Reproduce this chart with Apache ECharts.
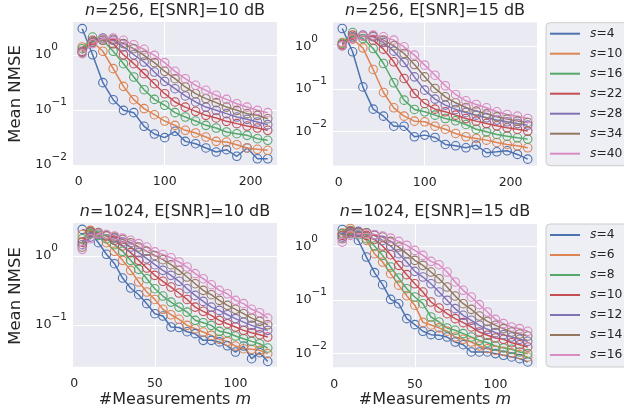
<!DOCTYPE html>
<html><head><meta charset="utf-8">
<script src="https://cdn.jsdelivr.net/npm/echarts@6/dist/echarts.min.js"></script>
<style>html,body{margin:0;padding:0;background:#fff}#c{width:624px;height:419px}</style>
</head><body><div id="c"></div>
<script>
// ---------- data ----------
const mTop = [4,16,28,40,52,64,76,88,100,112,124,136,148,160,172,184,196,208,220];
const mBottom = [5,10,15,20,25,30,35,40,45,50,55,60,65,70,75,80,85,90,95,100,105,110,115,120];
const sTop = [4,10,16,22,28,34,40];
const sBottom = [4,6,8,10,12,14,16];
const xTicksTop = [0,100,200];
const xTicksBottom = [0,50,100];

// Mean NMSE, n=256, E[SNR]=10 dB (rows: s=4..40)
const nmse_n256_10dB = [
  [3.01,1.01,0.314,0.154,0.0986,0.0895,0.0505,0.0366,0.0314,0.041,0.0269,0.0244,0.0204,0.0172,0.019,0.0144,0.0204,0.013,0.013],
  [1.40,1.72,1.17,0.565,0.269,0.154,0.106,0.0822,0.063,0.0526,0.0427,0.0382,0.0323,0.0269,0.0262,0.0234,0.0204,0.0193,0.0185],
  [1.30,2.12,1.85,1.17,0.695,0.398,0.234,0.156,0.122,0.0895,0.0746,0.063,0.0526,0.0471,0.0398,0.0371,0.0346,0.0301,0.0281],
  [1.17,1.85,1.98,1.60,1.01,0.695,0.458,0.301,0.198,0.140,0.113,0.0946,0.080,0.0716,0.0622,0.0565,0.0512,0.0471,0.0427],
  [1.13,1.72,2.04,1.85,1.40,1.01,0.746,0.491,0.332,0.244,0.180,0.140,0.113,0.0986,0.0858,0.0746,0.0676,0.0605,0.0541],
  [1.10,1.68,1.85,1.93,1.61,1.30,0.986,0.726,0.505,0.371,0.262,0.198,0.161,0.136,0.113,0.0986,0.0858,0.080,0.0695],
  [1.06,1.61,1.98,2.04,1.85,1.54,1.27,0.986,0.726,0.505,0.371,0.281,0.228,0.185,0.156,0.130,0.113,0.0986,0.0895]
];
// Mean NMSE, n=256, E[SNR]=15 dB
const nmse_n256_15dB = [
  [2.65,0.749,0.112,0.0335,0.0229,0.0133,0.0133,0.0075,0.0082,0.00722,0.00494,0.0046,0.00413,0.00477,0.00315,0.00332,0.00351,0.00288,0.00223],
  [1.24,1.49,0.93,0.288,0.0827,0.036,0.0229,0.0175,0.0169,0.0133,0.0113,0.00897,0.0075,0.00685,0.00625,0.00551,0.00494,0.0046,0.00413],
  [1.18,2.13,1.54,0.897,0.398,0.14,0.0546,0.033,0.029,0.0242,0.0202,0.0178,0.0146,0.0113,0.0098,0.0085,0.00776,0.0071,0.0066],
  [1.11,1.85,1.78,1.41,0.865,0.436,0.177,0.0783,0.0456,0.0335,0.029,0.0242,0.0202,0.0175,0.0154,0.0136,0.0122,0.0113,0.0102],
  [1.07,1.69,1.85,1.69,1.24,0.777,0.42,0.193,0.0939,0.0577,0.0417,0.033,0.028,0.0242,0.021,0.0185,0.0169,0.0154,0.0141],
  [1.04,1.60,1.78,1.78,1.41,1.04,0.684,0.377,0.193,0.103,0.0654,0.0473,0.0367,0.0301,0.026,0.0221,0.0195,0.0175,0.0163],
  [1.04,1.54,1.78,1.85,1.69,1.41,0.982,0.625,0.364,0.211,0.119,0.0742,0.0527,0.0432,0.036,0.029,0.0251,0.0229,0.0202]
];
// Mean NMSE, n=1024, E[SNR]=10 dB (rows: s=4..16)
const nmse_n1024_10dB = [
  [2.43,2.23,1.56,1.06,0.774,0.48,0.344,0.275,0.204,0.146,0.135,0.0936,0.092,0.080,0.075,0.060,0.060,0.057,0.050,0.0406,0.0496,0.0325,0.0397,0.0297],
  [2.05,2.35,2.11,1.56,1.17,0.865,0.62,0.42,0.301,0.235,0.169,0.141,0.121,0.099,0.0885,0.0792,0.0708,0.062,0.058,0.0496,0.0454,0.0444,0.043,0.0385],
  [1.78,2.11,1.99,1.78,1.46,1.17,0.865,0.641,0.469,0.336,0.263,0.215,0.182,0.154,0.117,0.108,0.0989,0.081,0.0774,0.0693,0.0634,0.058,0.0536,0.0464],
  [1.59,2.23,2.11,1.95,1.69,1.40,1.12,0.865,0.67,0.525,0.43,0.355,0.291,0.235,0.182,0.158,0.138,0.117,0.1045,0.0936,0.0837,0.0774,0.0724,0.067],
  [1.46,1.88,2.11,1.99,1.82,1.60,1.35,1.12,0.915,0.749,0.62,0.525,0.43,0.336,0.269,0.220,0.182,0.163,0.141,0.124,0.110,0.0989,0.0905,0.0837],
  [1.35,2.28,2.18,1.99,1.88,1.74,1.56,1.35,1.17,1.02,0.885,0.749,0.62,0.496,0.397,0.318,0.275,0.228,0.193,0.169,0.146,0.126,0.113,0.101],
  [1.25,1.78,2.11,2.04,1.95,1.82,1.69,1.51,1.35,1.15,1.05,0.946,0.819,0.693,0.555,0.469,0.384,0.318,0.284,0.228,0.204,0.169,0.151,0.126]
];
// Mean NMSE, n=1024, E[SNR]=15 dB
const nmse_n1024_15dB = [
  [2.11,1.95,1.31,0.64,0.326,0.194,0.103,0.0853,0.0447,0.0345,0.0259,0.0224,0.0218,0.0202,0.0163,0.0145,0.0106,0.0106,0.0106,0.00986,0.00917,0.00853,0.00794,0.00688],
  [1.80,2.20,1.90,1.31,0.74,0.516,0.312,0.19,0.12,0.08,0.038,0.034,0.030,0.026,0.0202,0.0183,0.0163,0.0137,0.0122,0.0114,0.0109,0.0101,0.0094,0.0085],
  [1.75,2.02,1.68,1.41,1.03,0.688,0.416,0.259,0.163,0.114,0.0853,0.048,0.0387,0.0299,0.027,0.0234,0.0202,0.0175,0.0158,0.0137,0.0126,0.0119,0.0106,0.00986],
  [1.63,1.94,1.88,1.63,1.37,1.03,0.708,0.447,0.299,0.202,0.141,0.0917,0.0708,0.0554,0.0447,0.0376,0.0312,0.0251,0.0218,0.0194,0.0183,0.0158,0.0145,0.0131],
  [1.52,1.83,1.94,1.83,1.63,1.31,1.03,0.74,0.516,0.345,0.27,0.202,0.141,0.0986,0.0688,0.0516,0.0416,0.0335,0.0282,0.0244,0.0224,0.0202,0.0183,0.0168],
  [1.41,1.75,1.83,1.83,1.68,1.52,1.26,0.986,0.74,0.555,0.447,0.335,0.251,0.175,0.119,0.0853,0.0668,0.0501,0.0398,0.0335,0.029,0.0251,0.023,0.0211],
  [1.22,1.63,1.75,1.75,1.68,1.58,1.45,1.26,1.06,0.853,0.688,0.531,0.46,0.335,0.218,0.152,0.114,0.0818,0.0596,0.0434,0.036,0.0312,0.029,0.0259]
];

const palette = ['#4C72B0','#DD8452','#55A868','#C44E52','#8172B3','#937860','#DA8BC3'];
const FONT = "'DejaVu Sans', sans-serif";
const TXT = '#262626';

// ---------- layout ----------
const panels = [
  {grid:{left:73, top:22, width:204, height:143}, x:mTop, xr:[-6.8,230.8], xt:xTicksTop, yr:[0.01,3.98], vals:nmse_n256_10dB, s:sTop, key:'n=256'},
  {grid:{left:333, top:22.5, width:204, height:143}, x:mTop, xr:[-6.8,230.8], xt:xTicksTop, yr:[0.00158,3.67], vals:nmse_n256_15dB, s:sTop, key:'n=256'},
  {grid:{left:73, top:223, width:204, height:143.7}, x:mBottom, xr:[-0.75,125.75], xt:xTicksBottom, yr:[0.0249,3.01], vals:nmse_n1024_10dB, s:sBottom, key:'n=1024'},
  {grid:{left:333, top:224, width:204, height:143.3}, x:mBottom, xr:[-0.75,125.75], xt:xTicksBottom, yr:[0.00546,2.67], vals:nmse_n1024_15dB, s:sBottom, key:'n=1024'}
];

function yFmt(v){
  const l = Math.log10(v), e = Math.round(l);
  if (Math.abs(l - e) > 1e-6) return '';
  if (e === 0) return '{b|10}{z|0}';
  return '{b|10}{sup|' + (e < 0 ? '\u2212' + (-e) : e) + '}';
}

const grids = [], xAxes = [], yAxes = [], series = [];
panels.forEach((p, pi) => {
  grids.push(Object.assign({show:true, backgroundColor:'#EAEAF2', borderWidth:0, containLabel:false}, p.grid));
  xAxes.push({
    type:'value', gridIndex:pi, min:p.xr[0], max:p.xr[1], splitNumber:2,
    axisLine:{show:false}, axisTick:{show:false, customValues:p.xt},
    axisLabel:{
      customValues:p.xt,
      margin:10.5, fontFamily:FONT, fontSize:12.5, color:TXT,
      formatter:(v)=> String(Math.round(v))
    },
    splitLine:{show:true, showMinLine:false, showMaxLine:false, lineStyle:{color:'#ffffff', width:1}}
  });
  yAxes.push({
    type:'log', logBase:10, gridIndex:pi, min:p.yr[0], max:p.yr[1],
    axisLine:{show:false}, axisTick:{show:false},
    axisLabel:{
      margin:6, formatter:yFmt, showMinLabel:true, showMaxLabel:false,
      rich:{
        b:{fontFamily:FONT, fontSize:12.8, color:TXT, lineHeight:26, verticalAlign:'middle'},
        sup:{fontFamily:FONT, fontSize:10.5, color:TXT, lineHeight:11, verticalAlign:'top'},
        z:{fontFamily:FONT, fontSize:10.5, color:TXT, lineHeight:11, verticalAlign:'top', padding:[0,9,0,0]}
      }
    },
    splitLine:{show:true, showMinLine:false, showMaxLine:false, lineStyle:{color:'#ffffff', width:1}},
    minorTick:{show:false}, minorSplitLine:{show:false}
  });
  p.vals.forEach((row, i) => {
    series.push({
      type:'line', name:p.key + ' s=' + p.s[i], xAxisIndex:pi, yAxisIndex:pi,
      data:p.x.map((xv, j) => [xv, row[j]]),
      symbol:'circle', symbolSize:8.5, showSymbol:true,
      itemStyle:{color:'rgba(0,0,0,0)', borderColor:palette[i], borderWidth:1.1},
      lineStyle:{color:palette[i], width:1.5},
      emphasis:{disabled:true}, silent:true, animation:false
    });
  });
});

function makeLegend(key, svals, top){
  return {
    orient:'vertical', left:546, top:top, selectedMode:false,
    data:svals.map((s,i)=>({name:key + ' s=' + s, icon:'rect', itemStyle:{color:palette[i], borderWidth:0}})),
    itemWidth:30, itemHeight:2, itemGap:0,
    padding:[1,60,2,4],
    backgroundColor:'#EEEEF5', borderColor:'#CCCCCC', borderWidth:1, borderRadius:4,
    formatter:(name)=> '{i|s}=' + name.split('=').pop(),
    textStyle:{fontFamily:FONT, fontSize:12.3, color:TXT, lineHeight:20, padding:[0,0,0,5],
      rich:{i:{fontFamily:FONT, fontSize:12.3, color:TXT, fontStyle:'italic', lineHeight:20}}}
  };
}

function label(x, y, text, size, rot){
  return {type:'text', x:x, y:y, rotation:rot||0, silent:true,
    style:{text:text, fontFamily:FONT, fontSize:size, fill:TXT, align:'center', verticalAlign:'middle',
      rich:{i:{fontFamily:FONT, fontSize:size, fill:TXT, fontStyle:'italic'}}}};
}

const chart = echarts.init(document.getElementById('c'), null, {renderer:'canvas'});
chart.setOption({
  animation:false,
  backgroundColor:'#ffffff',
  grid:grids, xAxis:xAxes, yAxis:yAxes, series:series,
  legend:[makeLegend('n=256', sTop, 22.7), makeLegend('n=1024', sBottom, 224)],
  graphic:[
    label(175, 11, '{i|n}=256, E[SNR]=10 dB', 16),
    label(435, 11, '{i|n}=256, E[SNR]=15 dB', 16),
    label(175, 212, '{i|n}=1024, E[SNR]=10 dB', 16),
    label(435, 212, '{i|n}=1024, E[SNR]=15 dB', 16),
    label(16, 94, 'Mean NMSE', 16.5, Math.PI/2),
    label(16, 296, 'Mean NMSE', 16.5, Math.PI/2),
    label(175, 400, '#Measurements {i|m}', 16),
    label(435, 400, '#Measurements {i|m}', 16)
  ]
});
</script></body></html>
